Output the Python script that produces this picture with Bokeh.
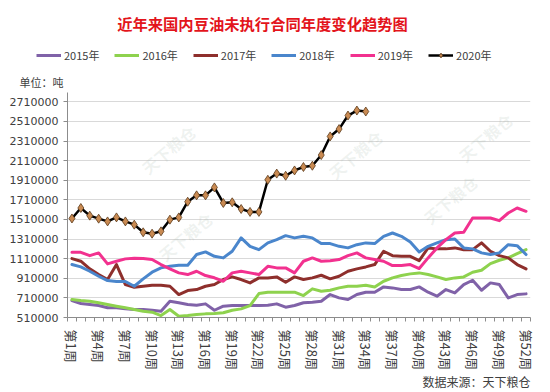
import math
from bokeh.plotting import figure
from bokeh.layouts import column
from bokeh.models import (FixedTicker, Label, Legend, LegendItem, Range1d,
                          BasicTickFormatter)
from bokeh.embed import file_html
from bokeh.resources import INLINE

# ---------------- data ----------------
weeks = list(range(1, 53))
tick_weeks = list(range(1, 53, 3))
tick_labels = ["第%d周" % w for w in tick_weeks]
y_ticks = list(range(510000, 2710001, 200000))

s2015 = [683000, 653000, 642000, 632000, 609000, 609000, 598000, 591000, 591000, 584000,
         574000, 676000, 660000, 642000, 635000, 649000, 584000, 625000, 632000, 632000,
         632000, 632000, 636000, 649000, 615000, 632000, 660000, 666000, 676000, 744000,
         710000, 693000, 744000, 768000, 768000, 822000, 812000, 795000, 795000, 822000,
         768000, 727000, 795000, 761000, 846000, 890000, 788000, 863000, 846000, 710000,
         744000, 751000]
s2016 = [693000, 683000, 676000, 660000, 642000, 625000, 609000, 591000, 574000, 564000,
         530000, 591000, 523000, 530000, 540000, 547000, 551000, 558000, 584000, 598000,
         632000, 754000, 768000, 768000, 768000, 768000, 734000, 802000, 778000, 788000,
         812000, 829000, 829000, 838000, 822000, 880000, 914000, 938000, 955000, 965000,
         948000, 924000, 897000, 914000, 924000, 972000, 992000, 1060000, 1094000, 1118000,
         1162000, 1202000]
s2017 = [1111000, 1084000, 1006000, 948000, 897000, 1050000, 846000, 819000, 829000, 839000,
         839000, 829000, 744000, 785000, 795000, 829000, 846000, 897000, 924000, 897000,
         863000, 914000, 914000, 924000, 870000, 924000, 897000, 914000, 941000, 904000,
         931000, 982000, 1006000, 1026000, 1050000, 1186000, 1141000, 1134000, 1134000, 1090000,
         1220000, 1210000, 1210000, 1220000, 1202000, 1202000, 1271000, 1186000, 1141000, 1118000,
         1050000, 1006000]
s2018 = [1050000, 1026000, 982000, 931000, 887000, 877000, 877000, 829000, 904000, 972000,
         1016000, 1032000, 1043000, 1043000, 1152000, 1179000, 1134000, 1118000, 1186000, 1322000,
         1236000, 1202000, 1271000, 1304000, 1345000, 1322000, 1338000, 1322000, 1264000, 1264000,
         1236000, 1220000, 1253000, 1271000, 1264000, 1338000, 1372000, 1338000, 1281000, 1179000,
         1236000, 1271000, 1304000, 1311000, 1220000, 1210000, 1169000, 1152000, 1169000, 1253000,
         1243000, 1152000]
s2019 = [1175000, 1175000, 1141000, 1169000, 1057000, 1084000, 1108000, 1114000, 1111000, 1101000,
         1050000, 1006000, 965000, 948000, 982000, 938000, 915000, 880000, 965000, 982000,
         965000, 948000, 1032000, 1016000, 1016000, 965000, 1084000, 1118000, 1084000, 1090000,
         1101000, 1141000, 1169000, 1118000, 1101000, 1084000, 1040000, 1040000, 1050000, 1009000,
         1118000, 1220000, 1304000, 1372000, 1379000, 1525000, 1525000, 1525000, 1498000, 1576000,
         1627000, 1593000]
s2020 = [1520000, 1627000, 1549000, 1518000, 1490000, 1531000, 1490000, 1457000, 1379000, 1365000,
         1389000, 1508000, 1531000, 1691000, 1756000, 1756000, 1837000, 1678000, 1685000, 1617000,
         1587000, 1587000, 1915000, 1978000, 1956000, 2010000, 2045000, 2058000, 2167000, 2357000,
         2432000, 2570000, 2621000, 2611000]

series_names = ["2015年", "2016年", "2017年", "2018年", "2019年", "2020年"]
series_vals = [s2015, s2016, s2017, s2018, s2019, s2020]
series_colors = ["#8062A8", "#8ED24E", "#8E2F2C", "#4A86CC", "#F2318F", "#000000"]

title_text = "近年来国内豆油未执行合同年度变化趋势图"
unit_text = "单位：吨"
source_text = "数据来源：天下粮仓"

tick_font = "DejaVu Sans"
cjk_font = "Noto Sans CJK SC"
lab_color = "#404040"
marker_fill = "#C98A52"
marker_line = "#5A3A1A"

W = 550
HEAD_H = 92
MAIN_H = 280
FOOT_H = 20
BL, BR, BB = 67, 20, 54


def bare_fig(h):
    f = figure(width=W, height=h, output_backend="svg", toolbar_location=None,
               x_range=Range1d(0, 1), y_range=Range1d(0, 1),
               x_axis_location=None, y_axis_location=None,
               min_border_left=0, min_border_right=0, min_border_top=0,
               min_border_bottom=0, border_fill_color="white",
               background_fill_color="white")
    f.outline_line_color = None
    f.grid.grid_line_color = None
    f.frame_align = False
    return f


# ---------------- header (title, legend, unit) ----------------
head = bare_fig(HEAD_H)
head.add_layout(Label(x=262, y=HEAD_H - 22, x_units="screen", y_units="screen",
                      text=title_text, text_font=cjk_font, text_font_size="15.3px",
                      text_font_style="bold", text_color="#E3141B",
                      text_align="center", text_baseline="middle"))
head.add_layout(Label(x=63, y=HEAD_H - 81, x_units="screen", y_units="screen",
                      text=unit_text, text_font=cjk_font, text_font_size="11px",
                      text_color=lab_color, text_align="right",
                      text_baseline="middle"))

# legend renderers (their data lies outside the header's ranges; only the legend shows)
items = []
for name, vals, col in zip(series_names, series_vals, series_colors):
    xs = weeks[:len(vals)]
    if name == "2020年":
        r = head.line(xs, vals, line_color=col, line_width=2.5)
        m = head.scatter(xs, vals, marker="diamond", size=8, fill_color=marker_fill,
                         line_color=marker_line, line_width=0.8)
        items.append(LegendItem(label=name, renderers=[r, m]))
    else:
        r = head.line(xs, vals, line_color=col, line_width=3)
        items.append(LegendItem(label=name, renderers=[r]))

legend = Legend(items=items, orientation="horizontal", location=(36, 29),
                glyph_width=25, glyph_height=12, label_standoff=3, spacing=15,
                padding=0, margin=0, border_line_color=None,
                background_fill_alpha=0, label_text_font=cjk_font,
                label_text_font_size="11px", label_text_color=lab_color)
head.add_layout(legend, "center")

# ---------------- main chart ----------------
p = figure(width=W, height=MAIN_H, output_backend="svg", toolbar_location=None,
           x_range=Range1d(0.5, 52.5), y_range=Range1d(510000, 2805000),
           min_border_left=BL, min_border_right=BR, min_border_top=0,
           min_border_bottom=BB, background_fill_color="white",
           border_fill_color="white")
p.frame_align = False
p.outline_line_color = None
p.xgrid.grid_line_color = None
p.ygrid.grid_line_color = "#D9D9D9"
p.ygrid.grid_line_width = 1

p.yaxis.ticker = FixedTicker(ticks=y_ticks)
p.yaxis.formatter = BasicTickFormatter(use_scientific=False)
p.yaxis.axis_line_color = "#8C8C8C"
p.yaxis.major_tick_line_color = "#8C8C8C"
p.yaxis.major_tick_out = 4
p.yaxis.major_tick_in = 0
p.yaxis.minor_tick_line_color = None
p.yaxis.major_label_text_font = tick_font
p.yaxis.major_label_text_font_size = "11px"
p.yaxis.major_label_text_color = lab_color
p.yaxis.major_label_standoff = 5

p.xaxis.ticker = FixedTicker(ticks=tick_weeks,
                             minor_ticks=[w - 0.5 for w in weeks] + [52.5])
p.xaxis.major_label_overrides = {w: t for w, t in zip(tick_weeks, tick_labels)}
p.xaxis.axis_line_color = "#8C8C8C"
p.xaxis.major_tick_out = 0
p.xaxis.major_tick_in = 0
p.xaxis.minor_tick_out = 4
p.xaxis.minor_tick_in = 0
p.xaxis.minor_tick_line_color = "#8C8C8C"
p.xaxis.major_label_orientation = -math.pi / 2
p.xaxis.major_label_text_font = cjk_font
p.xaxis.major_label_text_font_size = "13px"
p.xaxis.major_label_text_color = lab_color
p.xaxis.major_label_standoff = 8

# faint watermarks
for (cx, cy) in [(101, 168), (118, 81), (288, 163), (383, 118), (418, 180)]:
    p.add_layout(Label(x=cx, y=cy, x_units="screen", y_units="screen",
                       text="天下粮仓", angle=0.7, text_font=cjk_font,
                       text_font_size="16px", text_font_style="bold",
                       text_color="#9AB0A0", text_alpha=0.16,
                       text_align="center", text_baseline="middle"))

for name, vals, col in zip(series_names, series_vals, series_colors):
    xs = weeks[:len(vals)]
    if name == "2020年":
        p.line(xs, vals, line_color=col, line_width=2.5, line_join="round")
        p.scatter(xs, vals, marker="diamond", size=9, fill_color=marker_fill,
                  line_color=marker_line, line_width=0.8)
    else:
        p.line(xs, vals, line_color=col, line_width=3, line_join="round",
               line_cap="round")

# ---------------- footer (source) ----------------
foot = bare_fig(FOOT_H)
foot.add_layout(Label(x=530, y=FOOT_H - 9, x_units="screen", y_units="screen",
                      text=source_text, text_font=cjk_font, text_font_size="12px",
                      text_color=lab_color, text_align="right",
                      text_baseline="middle"))

layout = column(head, p, foot, spacing=0)
open("out.html", "w").write(file_html(layout, INLINE))
